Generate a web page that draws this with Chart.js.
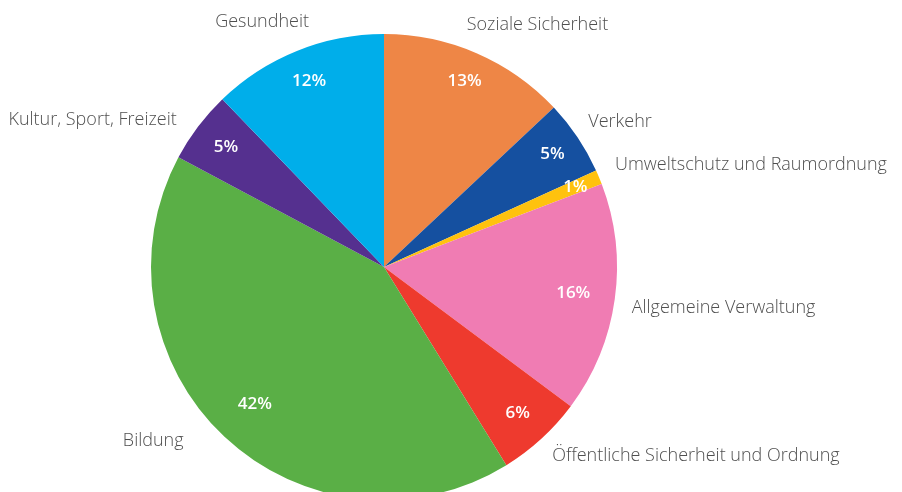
<!DOCTYPE html>
<html><head><meta charset="utf-8">
<script src="https://cdn.jsdelivr.net/npm/chart.js@4/dist/chart.umd.min.js"></script>
<style>
html,body{margin:0;padding:0;background:#fff;overflow:hidden;width:902px;height:492px;}
#wrap{position:absolute;left:0;top:0;width:902px;height:520px;}
</style></head>
<body><div id="wrap"><canvas id="c"></canvas></div>
<script>
const categories = ["Soziale Sicherheit","Verkehr","Umweltschutz und Raumordnung","Allgemeine Verwaltung","Öffentliche Sicherheit und Ordnung","Bildung","Kultur, Sport, Freizeit","Gesundheit"];
const shares = [13, 5.2, 1, 16, 6, 41.6, 5, 12.2];
const colors = ["#EE8646","#1550A0","#FFC20E","#F07CB3","#EE3A2E","#5AAF46","#55308F","#00AEEA"];
// per-label nudges (px) applied to the computed outer label anchor
const labelNudge = [[-21,-16],[-6,-8],[-2,-7],[-2,7],[-4,7],[-26,-5],[-5,1],[23,-17]];
// radial position of the percent label as a fraction of the radius
const pctRadius = [0.87,0.87,0.89,0.82,0.85,0.81,0.85,0.86];

const labelPlugin = {
  id:'pieLabels',
  afterDatasetsDraw(chart){
    const ctx = chart.ctx;
    const meta = chart.getDatasetMeta(0);
    const total = shares.reduce((a,b)=>a+b,0);
    meta.data.forEach((arc,i)=>{
      const {x,y,startAngle,endAngle,outerRadius} = arc.getProps(['x','y','startAngle','endAngle','outerRadius'],true);
      const mid = (startAngle+endAngle)/2;
      const ri = outerRadius*pctRadius[i];
      ctx.save();
      ctx.fillStyle = '#ffffff';
      ctx.font = '600 17px "Open Sans"';
      ctx.textAlign = 'center';
      ctx.textBaseline = 'middle';
      ctx.fillText(Math.round(shares[i]/total*100)+'%', x+Math.cos(mid)*ri, y+Math.sin(mid)*ri);
      const R = outerRadius+13;
      const ly = y + Math.sin(mid)*R;
      const dy = ly - y;
      const side = Math.cos(mid) >= 0 ? 1 : -1;
      const lx = x + side*(Math.sqrt(Math.max(0,R*R-dy*dy))+6);
      ctx.fillStyle = '#4f4f4f';
      ctx.font = '300 18px "Open Sans"';
      ctx.textAlign = side>0 ? 'left' : 'right';
      ctx.fillText(categories[i], lx+labelNudge[i][0], ly+labelNudge[i][1]);
      ctx.restore();
    });
  }
};

new Chart(document.getElementById('c'),{
  type:'pie',
  data:{labels:categories,datasets:[{data:shares,backgroundColor:colors,borderWidth:0,hoverOffset:0}]},
  options:{
    responsive:true,maintainAspectRatio:false,animation:false,
    layout:{padding:{left:151,right:285,top:34,bottom:20}},
    plugins:{legend:{display:false},tooltip:{enabled:false}},
    events:[]
  },
  plugins:[labelPlugin]
});
</script></body></html>
